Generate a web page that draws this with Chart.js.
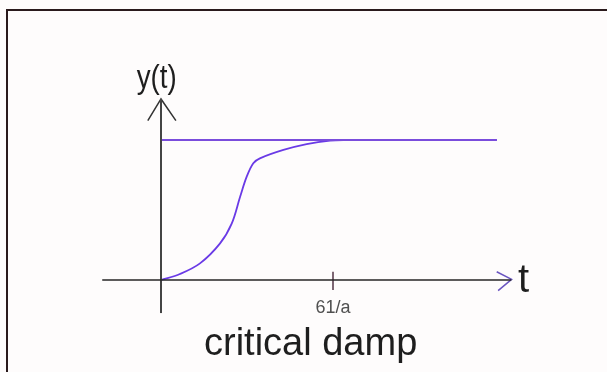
<!DOCTYPE html>
<html>
<head>
<meta charset="utf-8">
<script src="https://cdn.jsdelivr.net/npm/chart.js@4/dist/chart.umd.min.js"></script>
<style>
  html, body { margin: 0; padding: 0; background: #fefcfc; }
  #wrap { position: relative; width: 607px; height: 372px; overflow: hidden; }
  #frame { position: absolute; left: 6px; top: 9px; width: 620px; height: 380px;
           border-top: 2px solid #2a1a1c; border-left: 2px solid #2a1a1c; pointer-events: none; }
</style>
</head>
<body>
<div id="wrap">
  <canvas id="c" width="607" height="372"></canvas>
  <div id="frame"></div>
</div>
<script>
// ---- data (t in units where the marked tick is 6, y normalised to final value 1) ----
const curveT = [0, 0.66, 1.36, 2.06, 2.47, 2.76, 2.99, 3.22, 3.45, 4.27, 5.08, 5.90, 6.6];
const curveY = [0, 0.043, 0.119, 0.262, 0.405, 0.595, 0.738, 0.834, 0.869, 0.929, 0.971, 0.995, 1.0];
const finalValueT = [0, 11.72];
const finalValueY = [1, 1];
const xAxisT = [-2.05, 12.22];
const yAxisY = [-0.236, 1.293];
const xArrowT = [11.71, 12.23, 11.76];
const xArrowY = [0.059, 0.005, -0.076];
const yArrowT = [-0.46, 0, 0.52];
const yArrowY = [1.138, 1.293, 1.138];
const tickT = [6, 6];
const tickY = [0.059, -0.071];
const tickLabels = ["61/a"];
const xLabel = "t";
const yLabel = "y(t)";
const caption = "critical damp";

const pts = (xs, ys) => xs.map((x, i) => ({ x: x, y: ys[i] }));

const textPlugin = {
  id: 'texts',
  afterDatasetsDraw(chart) {
    const ctx = chart.ctx, xs = chart.scales.x, ys = chart.scales.y;
    ctx.save();
    ctx.fillStyle = '#1e1e1e';
    ctx.font = '33px "Liberation Sans", Arial, sans-serif';
    ctx.textAlign = 'center';
    ctx.textBaseline = 'alphabetic';
    const yx = xs.getPixelForValue(-0.15), yy = ys.getPixelForValue(1.375);
    ctx.save();
    ctx.translate(yx, yy);
    ctx.scale(0.84, 1);
    ctx.fillText(yLabel, 0, 0);
    ctx.restore();
    ctx.font = '40px "Liberation Sans", Arial, sans-serif';
    ctx.textAlign = 'left';
    ctx.fillText(xLabel, xs.getPixelForValue(12.45), ys.getPixelForValue(-0.083));
    ctx.fillStyle = '#505050';
    ctx.font = '18px "Liberation Sans", Arial, sans-serif';
    ctx.textAlign = 'center';
    ctx.fillText(tickLabels[0], xs.getPixelForValue(tickT[0]), ys.getPixelForValue(-0.235));
    ctx.fillStyle = '#1e1e1e';
    ctx.font = '38px "Liberation Sans", Arial, sans-serif';
    ctx.fillText(caption, xs.getPixelForValue(5.22), ys.getPixelForValue(-0.536));
    ctx.restore();
  }
};

new Chart(document.getElementById('c'), {
  type: 'scatter',
  data: {
    datasets: [
      { data: pts(xAxisT, [0, 0]), showLine: true, borderColor: '#262626', borderWidth: 1.6, pointRadius: 0 },
      { data: pts([0, 0], yAxisY), showLine: true, borderColor: '#444444', borderWidth: 2, pointRadius: 0 },
      { data: pts(yArrowT, yArrowY), showLine: true, borderColor: '#333333', borderWidth: 1.5, pointRadius: 0 },
      { data: pts(xArrowT, xArrowY), showLine: true, borderColor: '#6a55c0', borderWidth: 1.5, pointRadius: 0 },
      { data: pts(tickT, tickY), showLine: true, borderColor: '#7d6673', borderWidth: 2, pointRadius: 0 },
      { data: pts(finalValueT, finalValueY), showLine: true, borderColor: '#7a4cdc', borderWidth: 2, pointRadius: 0 },
      { data: pts(curveT, curveY), showLine: true, borderColor: '#6a3ae6', borderWidth: 1.8, pointRadius: 0,
        tension: 0.35 }
    ]
  },
  options: {
    responsive: false,
    animation: false,
    layout: { padding: 0 },
    plugins: { legend: { display: false }, tooltip: { enabled: false }, title: { display: false } },
    scales: {
      x: { type: 'linear', display: false, min: -5.616, max: 15.558 },
      y: { type: 'linear', display: false, min: -0.657, max: 2.0 }
    }
  },
  plugins: [textPlugin]
});
</script>
</body>
</html>
